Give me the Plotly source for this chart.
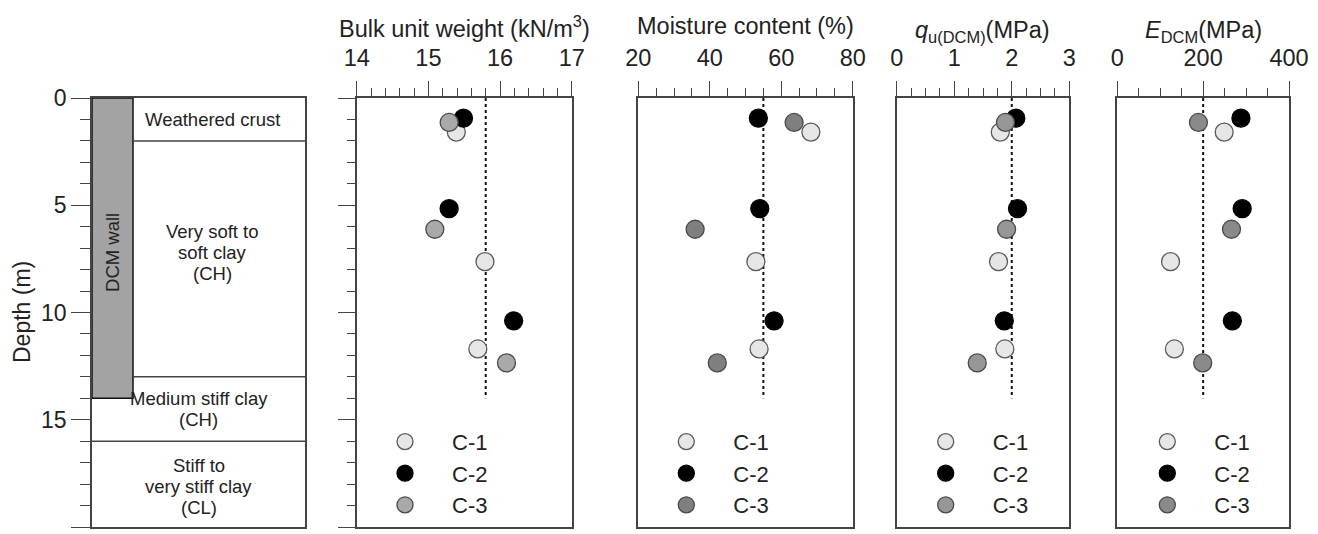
import plotly.graph_objects as go

# ---- data -------------------------------------------------------------
# sample depths (m) for the three cores
depth_c1 = [1.59, 7.63, 11.70]
depth_c2 = [0.94, 5.16, 10.39]
depth_c3 = [1.14, 6.12, 12.35]

unit_weight_c1 = [15.39, 15.79, 15.69]
unit_weight_c2 = [15.49, 15.29, 16.19]
unit_weight_c3 = [15.29, 15.09, 16.09]

moisture_c1 = [68.3, 52.9, 53.8]
moisture_c2 = [53.6, 54.0, 58.0]
moisture_c3 = [63.6, 35.9, 42.1]

qu_c1 = [1.80, 1.77, 1.88]
qu_c2 = [2.07, 2.10, 1.87]
qu_c3 = [1.89, 1.91, 1.40]

e_c1 = [249, 124, 133]
e_c2 = [288, 291, 268]
e_c3 = [189, 266, 199]

# design reference values (dotted lines) and their depth extent
reference_values = [15.8, 55, 2.0, 200]
reference_depth = [0, 14]

# soil profile
layer_bounds = [0, 2, 13, 16, 20]
layer_names = [["Weathered crust"],
               ["Very soft to", "soft clay", "(CH)"],
               ["Medium stiff clay", "(CH)"],
               ["Stiff to", "very stiff clay", "(CL)"]]
layer_label_depth = [1.0, 7.2, 14.5, 18.1]
wall_depth = [0, 14]
wall_label_depth = 7.2

series_names = ["C-1", "C-2", "C-3"]

# ---- styling ----------------------------------------------------------
W, H = 1318, 534
FONT = "Liberation Sans, Arial, sans-serif"
AX = "#444444"
TXT = "#222222"
LINE_STEP = 0.98   # text line spacing inside the soil column, in metres

def px_x(p):
    return p / W

def px_y(p):
    return 1 - p / H

y_dom = [px_y(527), px_y(98)]
panels_px = [(92, 305), (356.7, 571.7), (638.3, 852.7), (896.7, 1069.3), (1117.3, 1289)]

fig = go.Figure()

panel_specs = [
    dict(rng=[14, 17], dtick=1, minor=0.2, title_y=27,
         title="Bulk unit weight (kN/m<sup>3</sup>)",
         vals=[unit_weight_c1, unit_weight_c2, unit_weight_c3], c3="#a9a9a9"),
    dict(rng=[20, 80], dtick=20, minor=5, title_y=26,
         title="Moisture content (%)",
         vals=[moisture_c1, moisture_c2, moisture_c3], c3="#7f7f7f"),
    dict(rng=[0, 3], dtick=1, minor=0.25, title_y=31,
         title="<i>q</i><sub>u(DCM)</sub>(MPa)",
         vals=[qu_c1, qu_c2, qu_c3], c3="#979797"),
    dict(rng=[0, 400], dtick=200, minor=50, title_y=31,
         title="<i>E</i><sub>DCM</sub>(MPa)",
         vals=[e_c1, e_c2, e_c3], c3="#8a8a8a"),
]

depths = [depth_c1, depth_c2, depth_c3]

# ---- soil column -------------------------------------------------------
fig.update_layout(
    xaxis=dict(domain=[px_x(panels_px[0][0]), px_x(panels_px[0][1])], range=[0, 1],
               showline=True, linecolor=AX, linewidth=1.5, mirror=True,
               showticklabels=False, ticks="", showgrid=False, zeroline=False,
               anchor="y", fixedrange=True, automargin=False),
    yaxis=dict(domain=y_dom, range=[20, 0], anchor="x", automargin=False,
               showline=True, linecolor=AX, linewidth=1.5, mirror=True,
               ticks="outside", ticklen=19, tickwidth=1.3, tickcolor=AX,
               dtick=5, tick0=0,
               minor=dict(ticks="outside", ticklen=10, dtick=1, tickcolor=AX, tickwidth=1.3),
               tickfont=dict(size=23, family=FONT, color=TXT),
               showgrid=False, zeroline=False),
)

wall_x = [0, 0.1925]
fig.add_shape(type="rect", xref="x", yref="y", x0=wall_x[0], x1=wall_x[1],
              y0=wall_depth[0], y1=wall_depth[1],
              fillcolor="#a3a3a3", line=dict(color="#111", width=1.5), layer="above")

for b in layer_bounds[1:-1]:
    x_start = wall_x[1] if b < wall_depth[1] else 0
    fig.add_shape(type="line", xref="x", yref="y", x0=x_start, x1=1, y0=b, y1=b,
                  line=dict(color=AX, width=1.5))

for lines, d in zip(layer_names, layer_label_depth):
    xc = 0.565 if d < wall_depth[1] else 0.5
    n = len(lines)
    for i, txt in enumerate(lines):
        fig.add_annotation(x=xc, y=d + (i - (n - 1) / 2) * LINE_STEP, xref="x", yref="y",
                           xanchor="center", yanchor="middle",
                           text=txt, showarrow=False,
                           font=dict(size=18.5, family=FONT, color=TXT))

fig.add_annotation(x=sum(wall_x) / 2, y=wall_label_depth, xref="x", yref="y",
                   xanchor="center", yanchor="middle",
                   text="DCM wall", textangle=-90, showarrow=False,
                   font=dict(size=18.5, family=FONT, color=TXT))

fig.add_annotation(x=px_x(22), y=px_y(312), xref="paper", yref="paper",
                   xanchor="center", yanchor="middle",
                   text="Depth (m)", textangle=-90, showarrow=False,
                   font=dict(size=23, family=FONT, color=TXT))

# ---- property panels --------------------------------------------------
for k, spec in enumerate(panel_specs):
    n = k + 2
    xa, ya = f"xaxis{n}", f"yaxis{n}"
    xr, yr = f"x{n}", f"y{n}"
    x0, x1 = panels_px[k + 1]
    fig.layout[xa] = dict(
        domain=[px_x(x0), px_x(x1)], range=spec["rng"], anchor=yr, side="top",
        automargin=False,
        showline=True, linecolor=AX, linewidth=1.5, mirror=True,
        ticks="outside", ticklen=15, tickwidth=1.3, tickcolor=AX,
        dtick=spec["dtick"], tick0=spec["rng"][0], ticklabelstandoff=6,
        minor=dict(ticks="outside", ticklen=8, dtick=spec["minor"], tickcolor=AX, tickwidth=1.3),
        tickfont=dict(size=23.5, family=FONT, color=TXT),
        showgrid=False, zeroline=False)
    yopts = dict(domain=y_dom, range=[20, 0], anchor=xr, automargin=False,
                 showline=True, linecolor=AX, linewidth=1.5, mirror=True,
                 showticklabels=False, showgrid=False, zeroline=False)
    if k == 0:
        yopts.update(ticks="outside", ticklen=17, tickwidth=1.3, tickcolor=AX, dtick=5, tick0=0,
                     minor=dict(ticks="outside", ticklen=8, dtick=1, tickcolor=AX, tickwidth=1.3))
    else:
        yopts.update(ticks="")
    fig.layout[ya] = yopts

    # panel title
    fig.add_annotation(x=px_x((x0 + x1) / 2), y=px_y(spec["title_y"]),
                       xref="paper", yref="paper", xanchor="center", yanchor="middle",
                       text=spec["title"], showarrow=False,
                       font=dict(size=23.5, family=FONT, color=TXT))

    # dotted reference line
    rv = reference_values[k]
    fig.add_trace(go.Scatter(x=[rv, rv], y=reference_depth, xaxis=xr, yaxis=yr,
                             mode="lines", line=dict(color="#111", width=2, dash="dot"),
                             showlegend=False, hoverinfo="skip"))

    fills = ["#e6e6e6", "#000000", spec["c3"]]
    edges = ["#5a5a5a", "#000000", "#4a4a4a"]
    legend_id = "legend" if k == 0 else f"legend{k + 1}"
    for j in range(3):
        fig.add_trace(go.Scatter(
            x=spec["vals"][j], y=depths[j], xaxis=xr, yaxis=yr, mode="markers",
            name=series_names[j], legend=legend_id,
            marker=dict(size=18, color=fills[j], line=dict(color=edges[j], width=1.3)),
        ))

# ---- legends ---------------------------------------------------------
legend_marker_px = [406, 687.3, 946.7, 1168.3]
legend_common = dict(font=dict(size=22, family=FONT, color=TXT), bgcolor="rgba(0,0,0,0)",
                     borderwidth=0, itemwidth=84, xanchor="left", yanchor="middle",
                     y=px_y(473.3), tracegroupgap=0, itemsizing="trace")
for k, mx in enumerate(legend_marker_px):
    key = "legend" if k == 0 else f"legend{k + 1}"
    fig.layout[key] = dict(legend_common, x=px_x(mx - 48))

fig.update_layout(width=W, height=H,
                  margin=dict(l=0, r=0, t=0, b=0, pad=0, autoexpand=False),
                  paper_bgcolor="white", plot_bgcolor="white",
                  font=dict(family=FONT, color=TXT))

fig.write_html("out.html")
